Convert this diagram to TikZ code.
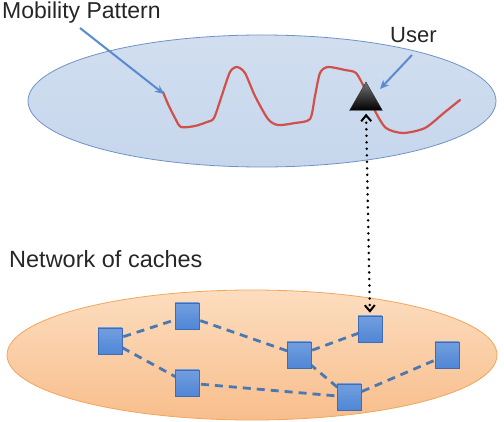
\documentclass[tikz,border=0pt]{standalone}
\usepackage{fontspec}
\setmainfont{Liberation Sans}
\usetikzlibrary{arrows.meta,shapes.geometric}
\pgfdeclarelayer{back}
\pgfdeclarelayer{mid}
\pgfsetlayers{back,mid,main}
\definecolor{topfill}{HTML}{C6D6EC}
\definecolor{topedge}{HTML}{6F93C6}
\definecolor{botfillA}{HTML}{FCDDBF}
\definecolor{botfillB}{HTML}{F8BE8C}
\definecolor{botedge}{HTML}{F2A65A}
\definecolor{sqfill}{HTML}{4F86D6}
\definecolor{sqedge}{HTML}{3E6DB5}
\definecolor{dashcol}{HTML}{4A78B2}
\definecolor{redline}{HTML}{D0504A}
\definecolor{arrowblue}{HTML}{5A8AD0}
\tikzset{
  lbl/.style={font=\fontsize{23}{26}\selectfont, text=black!85, inner sep=0pt, anchor=base west},
  cache/.style={rectangle, draw=sqedge, line width=0.6pt, top color=sqfill!80!white, bottom color=sqfill, minimum width=24pt, minimum height=26pt, inner sep=0pt},
  link/.style={draw=dashcol, line width=2.8pt, dash pattern=on 8pt off 6pt},
  pointer/.style={draw=arrowblue, line width=2pt, -{Stealth[length=9pt,width=8pt]}},
}
\begin{document}
\begin{tikzpicture}[x=1pt,y=-1pt]
\useasboundingbox (0,0) rectangle (504,422);
% ellipses
\begin{pgfonlayer}{back}
\node[ellipse, draw=topedge, line width=0.8pt, top color=topfill!80!white, bottom color=topfill, minimum width=468pt, minimum height=132pt, inner sep=0pt] (top) at (262,101) {};
\node[ellipse, draw=botedge, line width=0.8pt, top color=botfillA, bottom color=botfillB, minimum width=490pt, minimum height=130pt, inner sep=0pt] (bot) at (252,355) {};
\end{pgfonlayer}
% labels
\node[lbl] (mp) at (2,19) {Mobility Pattern};
\node[lbl, font=\fontsize{22}{25}\selectfont] (ul) at (390,43) {User};
\node[lbl, font=\fontsize{23.5}{26}\selectfont] (nc) at (9,268) {Network of caches};
% mobility curve
\draw[redline, line width=2.2pt, line join=round, line cap=round]
  plot[smooth, tension=0.45] coordinates {(163,92) (168,104) (175,118) (181,127) (195,126) (207,122) (214,118) (222,95) (230,72) (237,67) (245,73) (255,96) (268,119) (278,125) (295,123) (310,119) (315,96) (320,73) (328,67) (345,70) (356,73) (365,89) (375,111) (386,128) (403,133) (425,128) (445,112) (460,100)};
% user
\node[regular polygon, regular polygon sides=3, minimum size=38pt, inner sep=0pt, top color=black!55, bottom color=black, draw=black!80, line width=0.4pt] (user) at (366,101) {};
% pointer arrows
\coordinate (mpA) at (80,28);
\coordinate (mpB) at (164,94);
\coordinate (uA) at (412,55);
\coordinate (uB) at (380,89);
\draw[pointer] (mpA) -- (mpB);
\draw[pointer] (uA) -- (uB);
% caches
\node[cache] (A) at (110,341) {};
\node[cache] (B) at (187,316) {};
\node[cache] (C) at (187,383) {};
\node[cache] (D) at (299,355) {};
\node[cache] (E) at (370,329) {};
\node[cache] (F) at (447,355) {};
\node[cache] (G) at (349,397) {};
\begin{pgfonlayer}{mid}
\draw[link] (A.center) -- (B.center);
\draw[link] (A.center) -- (C.center);
\draw[link] (B.center) -- (D.center);
\draw[link] (D.center) -- (E.center);
\draw[link] (D.center) -- (G.center);
\draw[link] (C.center) -- (G.center);
\draw[link] (G.center) -- (F.center);
\end{pgfonlayer}
% dotted link user -> cache
\draw[black, line width=2.8pt, dash pattern=on 0.01pt off 6.5pt, line cap=round,
  {Straight Barb[length=6pt,width=10pt,line width=2pt]}-{Straight Barb[length=6pt,width=10pt,line width=2pt]},
  shorten <=3pt, shorten >=3pt] (user.south) -- (E.north);
\end{tikzpicture}
\end{document}
